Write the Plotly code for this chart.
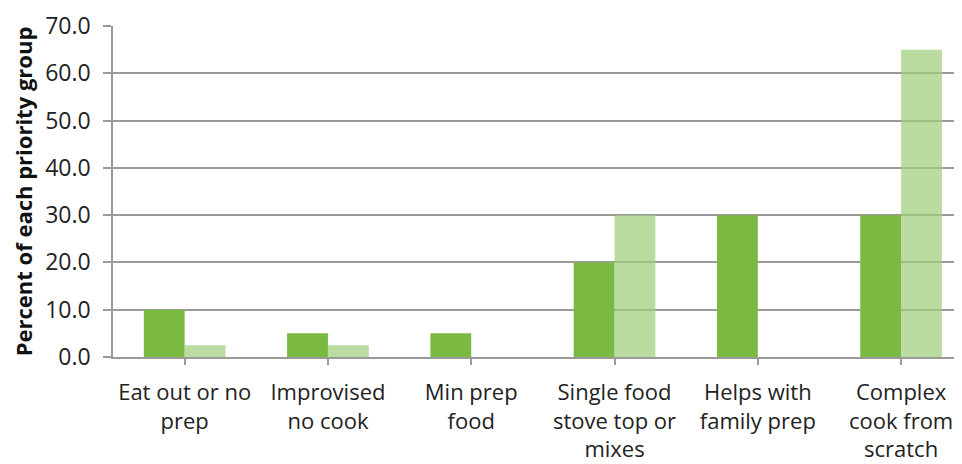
import plotly.graph_objects as go

categories = ["Eat out or no<br>prep", "Improvised<br>no cook", "Min prep<br>food",
              "Single food<br>stove top or<br>mixes", "Helps with<br>family prep",
              "Complex<br>cook from<br>scratch"]
series_a = [10.0, 5.0, 5.0, 20.0, 30.0, 30.0]
series_b = [2.5, 2.5, 0.0, 30.0, 0.0, 65.0]
y_ticks = [0, 10, 20, 30, 40, 50, 60, 70]

font_fam = "Open Sans, Liberation Sans, sans-serif"

fig = go.Figure()
fig.add_trace(go.Bar(x=list(range(len(categories))), y=series_a,
                     marker=dict(color="#7aba43", line=dict(width=0))))
fig.add_trace(go.Bar(x=list(range(len(categories))), y=series_b,
                     marker=dict(color="rgba(160,207,125,0.72)", line=dict(width=0))))

fig.update_layout(
    width=954, height=458,
    margin=dict(l=105, r=0, t=18, b=109),
    paper_bgcolor="white", plot_bgcolor="white",
    barmode="group", bargap=0.43, bargroupgap=0,
    showlegend=False,
    font=dict(family=font_fam, color="#222222"),
)
fig.update_xaxes(
    range=[-0.5, 5.425], automargin=False,
    tickmode="array", tickvals=list(range(len(categories))), ticktext=categories,
    tickson="boundaries", ticks="outside", ticklen=6, tickcolor="#9a9a9a", tickwidth=1.5,
    ticklabelstandoff=9, ticklabeloverflow="allow",
    showline=True, linecolor="#9a9a9a", linewidth=1.5,
    showgrid=False, tickfont=dict(size=22, family=font_fam, color="#222222"),
    zeroline=False,
)
fig.update_yaxes(
    range=[0, 70], tickvals=y_ticks, tickformat=".1f", automargin=False,
    ticks="outside", ticklen=8, tickcolor="#9a9a9a", tickwidth=1.5,
    ticklabelstandoff=8, ticklabeloverflow="allow",
    showline=True, linecolor="#9a9a9a", linewidth=1.5,
    showgrid=True, gridcolor="#9a9a9a", gridwidth=1.5,
    zeroline=False,
    tickfont=dict(size=23, family=font_fam, color="#222222"),
    title=dict(text="<b>Percent of each priority group</b>", font=dict(size=22, family=font_fam, color="#111111"), standoff=17),
)

fig.write_html("out.html")
